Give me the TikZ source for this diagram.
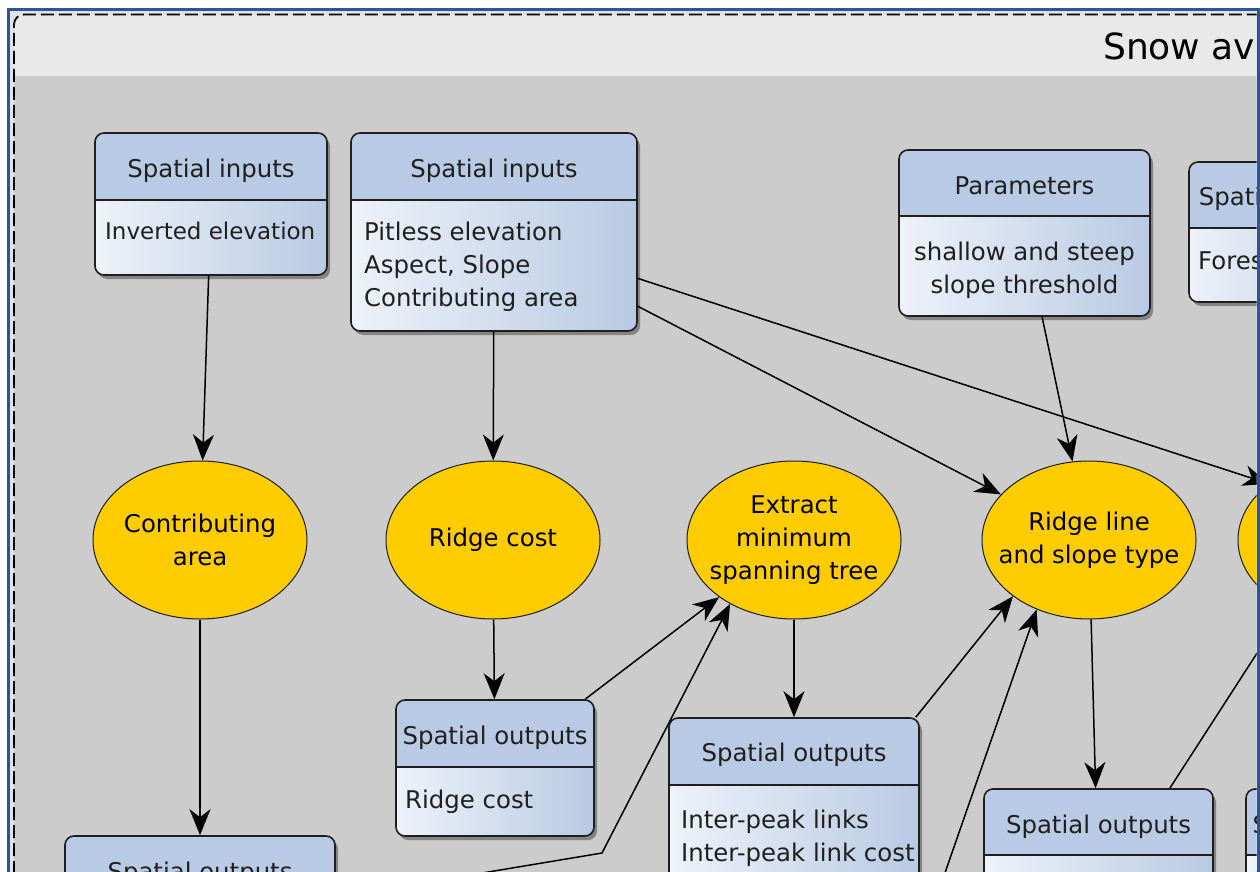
\documentclass[tikz,border=0pt]{standalone}
\usepackage{fontspec}
\setmainfont{DejaVu Sans}
\usetikzlibrary{shapes.geometric,arrows.meta,shadows}

\definecolor{hdrblue}{HTML}{B9CBE4}
\definecolor{bodylight}{HTML}{EEF2F9}
\definecolor{bodyblue}{HTML}{B8CAE3}
\definecolor{procgold}{HTML}{FFCC00}
\definecolor{canvasgray}{HTML}{CCCCCC}
\definecolor{titlegray}{HTML}{E9E9E9}
\definecolor{framegray}{HTML}{E4E4E4}
\definecolor{frameblue}{HTML}{2B5797}
\definecolor{edgeblack}{HTML}{1E1E1E}

\tikzset{
  classbox/.style={draw=edgeblack, line width=1.6pt, rounded corners=9pt, inner sep=0pt,
    left color=bodylight, right color=bodyblue,
    drop shadow={shadow xshift=3pt, shadow yshift=-4pt, opacity=0.35, fill=black},
    path picture={
      \fill[hdrblue, sharp corners] (path picture bounding box.north west)
        rectangle ([yshift=-#1]path picture bounding box.north east);
      \draw[edgeblack, line width=1.6pt, sharp corners] ([yshift=-#1]path picture bounding box.north west)
        -- ([yshift=-#1]path picture bounding box.north east);
    }},
  proc/.style={ellipse, draw=edgeblack, line width=1pt, fill=procgold, inner sep=0pt,
    minimum width=214pt, minimum height=158pt},
  hdtext/.style={anchor=base, inner sep=0pt, text=black!88},
  bdtext/.style={anchor=north west, inner sep=0pt, align=left, text=black!88},
  arr/.style={-{Stealth[length=26pt, width=21pt, inset=8pt]}, line width=1.5pt}
}

\begin{document}
\begin{tikzpicture}[x=1pt, y=-1pt, font=\fontsize{24.4}{33}\selectfont]
  \useasboundingbox (0,0) rectangle (1260,872);
  \fill[white] (0,0) rectangle (1260,872);

  \begin{scope}
    \clip (10,11.5) rectangle (1256.5,872);
    \fill[framegray] (10,11.5) rectangle (1256.5,872);
    % panel
    \fill[canvasgray, rounded corners=10pt] (14,14.5) rectangle (1400,1000);
    \begin{scope}
      \clip[rounded corners=10pt] (14,14.5) rectangle (1400,1000);
      \fill[titlegray] (14,14.5) rectangle (1400,76);
    \end{scope}
    \draw[line width=1.8pt, dash pattern=on 13pt off 5pt, rounded corners=10pt]
      (14,1000) -- (14,14.5) -- (1400,14.5);
    \node[anchor=base west, inner sep=0pt, font=\fontsize{36}{42}\selectfont] (title) at (1103,60) {Snow ava};

    % inputs
    \node[classbox=67pt, minimum width=232pt, minimum height=142pt] (inElev) at (211,204) {};
    \node[hdtext] at (211,177) {Spatial inputs};
    \node[bdtext, font=\fontsize{23}{33}\selectfont] at (105,222) {Inverted elevation};

    \node[classbox=67pt, minimum width=286pt, minimum height=198pt] (inTerrain) at (494,232) {};
    \node[hdtext] at (494,177) {Spatial inputs};
    \node[bdtext] at (364,222) {Pitless elevation\\Aspect, Slope\\Contributing area};

    \node[classbox=66pt, minimum width=251pt, minimum height=166pt] (parSlope) at (1024.5,233) {};
    \node[hdtext] at (1024.5,194) {Parameters};
    \node[bdtext, anchor=north, align=center] at (1024.5,242) {shallow and steep\\slope threshold};

    \node[classbox=66pt, minimum width=187pt, minimum height=140pt] (inForest) at (1282.5,232) {};
    \node[hdtext] at (1282.5,205) {Spatial inputs};
    \node[bdtext] at (1198,252) {Forest};

    % processes
    \node[proc, label={[align=center]center:Contributing\\area}] (procArea) at (200,540) {};
    \node[proc, label={[align=center]center:Ridge cost}] (procCost) at (493,540) {};
    \node[proc, label={[align=center]center:Extract\\minimum\\spanning tree}] (procTree) at (794,540) {};
    \node[proc, label={[align=center]center:Ridge line\\and slope type}] (procRidge) at (1089,540) {};
    \node[proc] (procNext) at (1345,540) {};

    % outputs
    \node[classbox=67pt, minimum width=198pt, minimum height=136pt] (outCost) at (495,768) {};
    \node[hdtext] at (495,744) {Spatial outputs};
    \node[bdtext] at (405,790) {Ridge cost};

    \node[classbox=67pt, minimum width=250pt, minimum height=240pt] (outLinks) at (794,838) {};
    \node[hdtext] at (794,761) {Spatial outputs};
    \node[bdtext] at (681,810) {Inter-peak links\\Inter-peak link cost};

    \node[classbox=66pt, minimum width=229pt, minimum height=220pt] (outRidge) at (1098.5,899) {};
    \node[hdtext] at (1098.5,833) {Spatial outputs};

    \node[classbox=66pt, minimum width=198pt, minimum height=220pt] (outNext) at (1345,899) {};
    \node[hdtext] at (1345,833) {Spatial outputs};

    \node[classbox=66pt, minimum width=270pt, minimum height=164pt] (outArea) at (200,918) {};
    \node[hdtext] at (200,880) {Spatial outputs};

    \coordinate (linkSrc) at (440,880);
    \coordinate (linkBend) at (602,853);
    \coordinate (slopeSrc) at (939,890);

    % connectors
    \draw[arr] (inElev) -- (procArea);
    \draw[arr] (inTerrain) -- (procCost);
    \draw[arr] (inTerrain) -- (procRidge);
    \draw[arr] (inTerrain) -- (procNext.north west);
    \draw[arr] (parSlope) -- (procRidge);
    \draw[arr] (procArea) -- (outArea);
    \draw[arr] (procCost) -- (outCost);
    \draw[arr] (outCost) -- (procTree);
    \draw[arr] (linkSrc) -- (linkBend) -- (procTree.225);
    \draw[arr] (procTree) -- (outLinks);
    \draw[arr] ([xshift=-4pt]outLinks.north east) -- (procRidge.south west);
    \draw[arr] (slopeSrc) -- (procRidge.233);
    \draw[arr] (procRidge) -- (outRidge);
    \draw[arr] (outRidge) -- (procNext.229);
  \end{scope}

  \draw[frameblue, line width=3pt] (8.5,872) -- (8.5,10) -- (1258,10) -- (1258,872);
\end{tikzpicture}
\end{document}
